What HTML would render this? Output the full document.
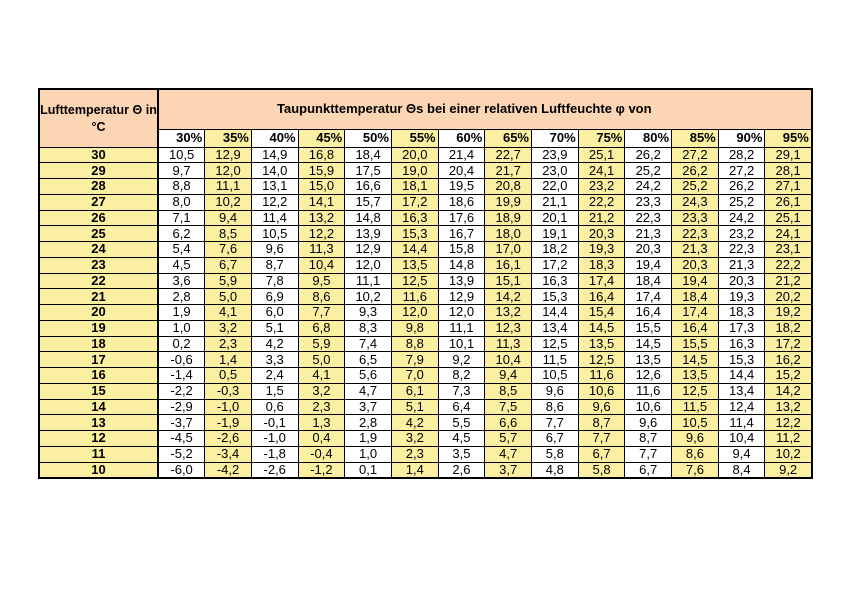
<!DOCTYPE html>
<html><head><meta charset="utf-8"><style>
html,body{margin:0;padding:0;background:#fff;width:848px;height:600px;overflow:hidden}
table{position:absolute;left:38px;top:88px;width:773px;border-collapse:collapse;border:2px solid #000;font-family:"Liberation Sans",Arial,sans-serif;font-size:13px;table-layout:fixed}
td{border:1px solid #000;padding:0;height:15.75px;line-height:14px;text-align:center;color:#000;overflow:hidden;white-space:nowrap;box-sizing:border-box}
td.l{background:#fbf0a2;font-weight:bold;border-right:2px solid #000}
td.y{background:#fbf0a2}
tr.p td{font-weight:bold;text-align:right;padding-right:2px;height:18px}
td.h{background:#fcd5b4;font-weight:bold}
</style></head><body>
<table id="t">
<colgroup><col style="width:119px"><col span="14" style="width:46.7px"></colgroup>
<tr><td class="h" rowspan="2" style="border-right:2px solid #000;line-height:17px;padding-top:2px;font-size:12.5px">Lufttemperatur Θ in<br>°C</td><td class="h" colspan="14" style="height:40px;text-align:left;padding-left:118px">Taupunkttemperatur Θs bei einer relativen Luftfeuchte φ von</td></tr>
<tr class="p"><td>30%</td><td class="y">35%</td><td>40%</td><td class="y">45%</td><td>50%</td><td class="y">55%</td><td>60%</td><td class="y">65%</td><td>70%</td><td class="y">75%</td><td>80%</td><td class="y">85%</td><td>90%</td><td class="y">95%</td></tr>
</table>
<script>
var d=`30 10,5 12,9 14,9 16,8 18,4 20,0 21,4 22,7 23,9 25,1 26,2 27,2 28,2 29,1
29 9,7 12,0 14,0 15,9 17,5 19,0 20,4 21,7 23,0 24,1 25,2 26,2 27,2 28,1
28 8,8 11,1 13,1 15,0 16,6 18,1 19,5 20,8 22,0 23,2 24,2 25,2 26,2 27,1
27 8,0 10,2 12,2 14,1 15,7 17,2 18,6 19,9 21,1 22,2 23,3 24,3 25,2 26,1
26 7,1 9,4 11,4 13,2 14,8 16,3 17,6 18,9 20,1 21,2 22,3 23,3 24,2 25,1
25 6,2 8,5 10,5 12,2 13,9 15,3 16,7 18,0 19,1 20,3 21,3 22,3 23,2 24,1
24 5,4 7,6 9,6 11,3 12,9 14,4 15,8 17,0 18,2 19,3 20,3 21,3 22,3 23,1
23 4,5 6,7 8,7 10,4 12,0 13,5 14,8 16,1 17,2 18,3 19,4 20,3 21,3 22,2
22 3,6 5,9 7,8 9,5 11,1 12,5 13,9 15,1 16,3 17,4 18,4 19,4 20,3 21,2
21 2,8 5,0 6,9 8,6 10,2 11,6 12,9 14,2 15,3 16,4 17,4 18,4 19,3 20,2
20 1,9 4,1 6,0 7,7 9,3 12,0 12,0 13,2 14,4 15,4 16,4 17,4 18,3 19,2
19 1,0 3,2 5,1 6,8 8,3 9,8 11,1 12,3 13,4 14,5 15,5 16,4 17,3 18,2
18 0,2 2,3 4,2 5,9 7,4 8,8 10,1 11,3 12,5 13,5 14,5 15,5 16,3 17,2
17 -0,6 1,4 3,3 5,0 6,5 7,9 9,2 10,4 11,5 12,5 13,5 14,5 15,3 16,2
16 -1,4 0,5 2,4 4,1 5,6 7,0 8,2 9,4 10,5 11,6 12,6 13,5 14,4 15,2
15 -2,2 -0,3 1,5 3,2 4,7 6,1 7,3 8,5 9,6 10,6 11,6 12,5 13,4 14,2
14 -2,9 -1,0 0,6 2,3 3,7 5,1 6,4 7,5 8,6 9,6 10,6 11,5 12,4 13,2
13 -3,7 -1,9 -0,1 1,3 2,8 4,2 5,5 6,6 7,7 8,7 9,6 10,5 11,4 12,2
12 -4,5 -2,6 -1,0 0,4 1,9 3,2 4,5 5,7 6,7 7,7 8,7 9,6 10,4 11,2
11 -5,2 -3,4 -1,8 -0,4 1,0 2,3 3,5 4,7 5,8 6,7 7,7 8,6 9,4 10,2
10 -6,0 -4,2 -2,6 -1,2 0,1 1,4 2,6 3,7 4,8 5,8 6,7 7,6 8,4 9,2`;
var t=document.getElementById('t'),h='';
d.split('\n').forEach(function(r){var c=r.split(' ');h+='<tr><td class="l">'+c[0]+'</td>';for(var i=1;i<c.length;i++)h+='<td'+(i%2==0?' class="y"':'')+'>'+c[i]+'</td>';h+='</tr>';});
t.insertAdjacentHTML('beforeend',h);
</script>
</body></html>
